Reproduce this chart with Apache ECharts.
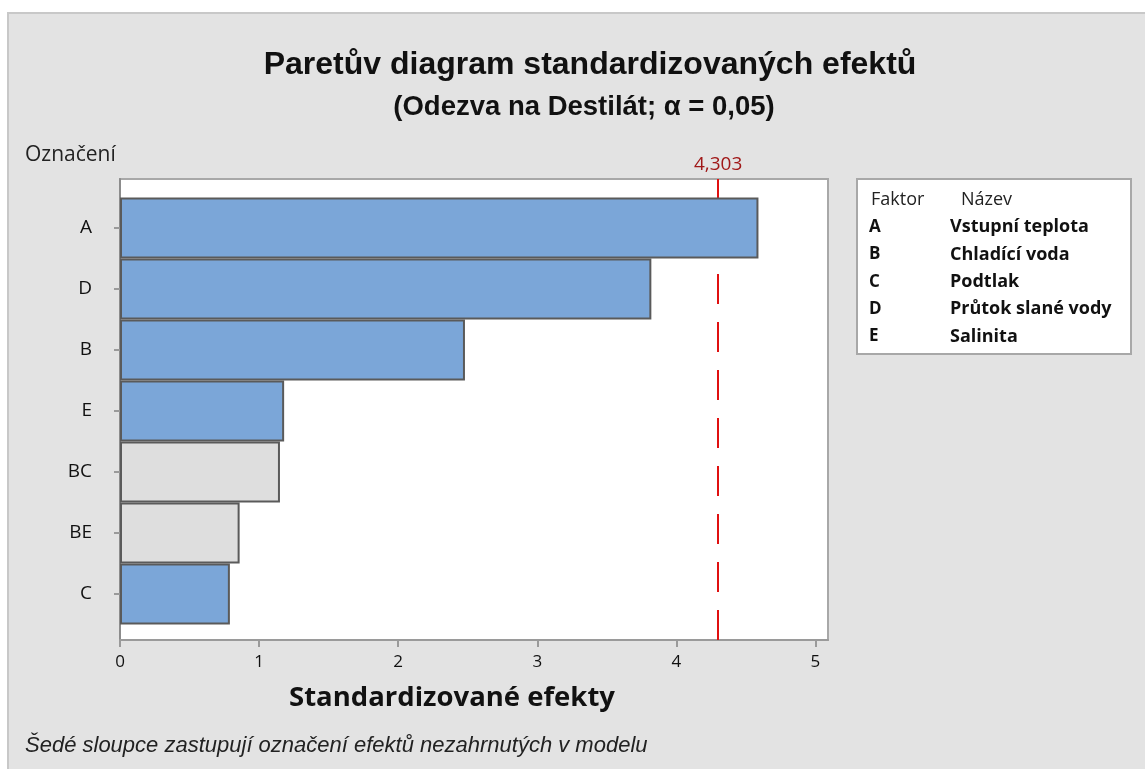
<!DOCTYPE html>
<html>
<head>
<meta charset="utf-8">
<script src="https://cdn.jsdelivr.net/npm/echarts@6/dist/echarts.min.js"></script>
<style>
  html, body { margin: 0; padding: 0; background: #ffffff; }
  #frame { position: absolute; left: 7px; top: 12px; width: 1138px; height: 757px;
           background: #e3e3e3; border-left: 2px solid #c8c8c8; border-top: 2px solid #c8c8c8; box-sizing: border-box; }
  #chart { position: absolute; left: 0; top: 0; width: 1145px; height: 769px; }
</style>
</head>
<body>
<div id="frame"></div>
<div id="chart"></div>
<script>
// ---- data ----
const categories = ['A', 'D', 'B', 'E', 'BC', 'BE', 'C'];
const effects = [4.59, 3.82, 2.48, 1.18, 1.15, 0.86, 0.79];
const included = [true, true, true, true, false, false, true];
const criticalValue = 4.303;
const xTicks = [0, 1, 2, 3, 4, 5];
const factorCodes = ['A', 'B', 'C', 'D', 'E'];
const factorNames = ['Vstupní teplota', 'Chladící voda', 'Podtlak', 'Průtok slané vody', 'Salinita'];

const chart = echarts.init(document.getElementById('chart'), null, { renderer: 'canvas' });

const labelFont = '"Open Sans", "Noto Sans", sans-serif';
const titleFont = '"Liberation Sans", Arial, sans-serif';

const legendGraphics = [];
legendGraphics.push({ type: 'rect', shape: { x: 857, y: 179, width: 274, height: 175 },
  style: { fill: '#ffffff', stroke: '#a8a8a8', lineWidth: 2 } });
legendGraphics.push({ type: 'text', x: 871, y: 200, style: { text: 'Faktor', font: '18px ' + labelFont, fill: '#222', verticalAlign: 'middle' } });
legendGraphics.push({ type: 'text', x: 961, y: 200, style: { text: 'Název', font: '18px ' + labelFont, fill: '#222', verticalAlign: 'middle' } });
factorCodes.forEach((c, i) => {
  const y = 227 + i * 27.4;
  legendGraphics.push({ type: 'text', x: 869, y: y, style: { text: c, font: 'bold 17px ' + labelFont, fill: '#111', verticalAlign: 'middle' } });
  legendGraphics.push({ type: 'text', x: 950, y: y, style: { text: factorNames[i], font: 'bold 18px ' + labelFont, fill: '#111', verticalAlign: 'middle' } });
});

const option = {
  backgroundColor: 'transparent',
  animation: false,
  title: [
    { text: 'Paretův diagram standardizovaných efektů', left: 585, top: 44, textAlign: 'center',
      textStyle: { fontFamily: titleFont, fontWeight: 'bold', fontSize: 32, color: '#111' } },
    { text: '(Odezva na Destilát; α = 0,05)', left: 579, top: 88, textAlign: 'center',
      textStyle: { fontFamily: titleFont, fontWeight: 'bold', fontSize: 27.5, color: '#111' } }
  ],
  graphic: [
    { type: 'text', x: 25, y: 155, style: { text: 'Označení', font: '21px ' + labelFont, fill: '#222', verticalAlign: 'middle' } },
    { type: 'text', x: 452, y: 698, style: { text: 'Standardizované efekty', font: 'bold 27.5px ' + labelFont, fill: '#111', align: 'center', verticalAlign: 'middle' } },
    { type: 'text', x: 25, y: 746, style: { text: 'Šedé sloupce zastupují označení efektů nezahrnutých v modelu', font: 'italic 22px ' + titleFont, fill: '#222', verticalAlign: 'middle' } },
    { type: 'group', children: legendGraphics }
  ],
  grid: [
    { left: 120, top: 179, width: 708, height: 461, show: true, backgroundColor: '#ffffff',
      borderColor: '#a8a8a8', borderWidth: 2, containLabel: false },
    { left: 120, top: 197.5, width: 708, height: 427, show: false, containLabel: false }
  ],
  xAxis: [
    { gridIndex: 0, type: 'value', min: 0, max: 5.09,
      axisLine: { show: true, lineStyle: { color: '#9a9a9a', width: 2 } },
      axisTick: { show: true, length: 7, customValues: xTicks, lineStyle: { color: '#9a9a9a', width: 2 } },
      axisLabel: { customValues: xTicks, fontSize: 17, color: '#111', fontFamily: labelFont, margin: 14 },
      splitLine: { show: false } },
    { gridIndex: 1, type: 'value', min: 0, max: 5.09, show: false, splitLine: { show: false } }
  ],
  yAxis: [
    { gridIndex: 0, type: 'value', min: 0, max: 1,
      axisLine: { show: true, lineStyle: { color: '#8c8c8c', width: 2 } },
      axisTick: { show: false }, axisLabel: { show: false }, splitLine: { show: false } },
    { gridIndex: 1, type: 'category', data: categories, inverse: true,
      axisLine: { show: false },
      axisTick: { show: true, alignWithLabel: true, length: 6, lineStyle: { color: '#9a9a9a', width: 2 } },
      axisLabel: { fontSize: 19, color: '#111', fontFamily: labelFont, margin: 28 },
      splitLine: { show: false } }
  ],
  series: [
    { type: 'line', xAxisIndex: 0, yAxisIndex: 0, data: [], z: 1, silent: true,
      markLine: { silent: true, symbol: 'none', animation: false,
        data: [{ xAxis: criticalValue }],
        lineStyle: { color: '#e01010', width: 2, type: [30, 18] },
        label: { show: true, position: 'end', distance: 5, formatter: () => String(criticalValue).replace('.', ','),
          color: '#a01818', fontSize: 19, fontFamily: labelFont } } },
    { type: 'bar', xAxisIndex: 1, yAxisIndex: 1, zlevel: 1, z: 3, barCategoryGap: '0%',
      data: effects.map((v, i) => ({ value: v, itemStyle: { color: included[i] ? '#7ba6d8' : '#dedede' } })),
      itemStyle: { borderColor: '#5a5a5a', borderWidth: 2 } }
  ]
};
chart.setOption(option);
</script>
</body>
</html>
